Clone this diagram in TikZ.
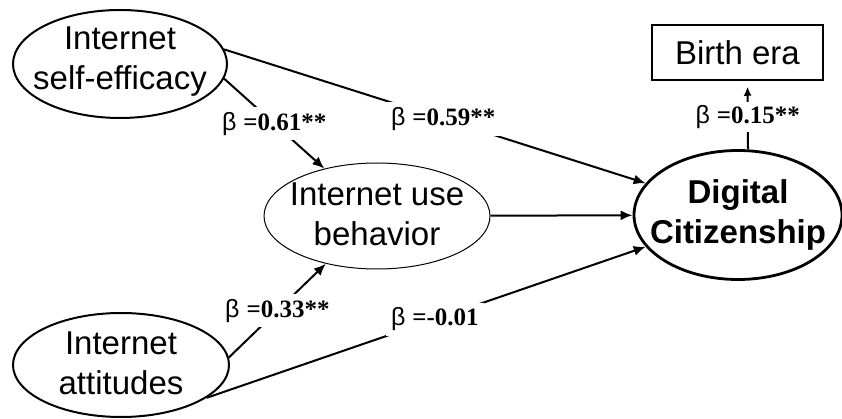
\documentclass[tikz,border=0pt]{standalone}
\usepackage{fontspec}
\setmainfont{Liberation Sans}
\newfontfamily\numfont{Liberation Serif}
\usetikzlibrary{arrows.meta, shapes.geometric}

\begin{document}
\begin{tikzpicture}[
      x=1pt, y=-1pt,
      font=\fontsize{33}{40}\selectfont,
      latent/.style={ellipse, draw, line width=2pt, inner sep=0pt},
      mediator/.style={latent, line width=1pt},
      outcome/.style={latent, line width=2.8pt},
      obs/.style={rectangle, draw, line width=1.5pt, minimum width=171pt, minimum height=55pt},
      path/.style={-{Latex[length=12pt,width=10pt]}, line width=2pt},
      coef/.style={fill=white, inner sep=5pt, font=\fontsize{25}{27}\selectfont}
    ]
      \useasboundingbox (0,0) rectangle (842,419);
      \node[latent, minimum width=214pt, minimum height=108pt,
        label={[align=center, yshift=2pt]center:Internet\\self-efficacy}] (se) at (120,64) {};
      \node[latent, minimum width=216pt, minimum height=104pt,
        label={[align=center, yshift=2pt]center:Internet\\attitudes}] (att) at (121,365) {};
      \node[mediator, minimum width=226pt, minimum height=106pt,
        label={[align=center, yshift=2pt]center:Internet use\\behavior}] (ub) at (377,216) {};
      \node[outcome, minimum width=208pt, minimum height=129pt,
        label={[align=center, font=\fontsize{33}{40}\selectfont\bfseries]center:Digital\\Citizenship}] (dc) at (738,215) {};
      \node[obs] (be) at (737.5,52.5) {Birth era};
      % paths
      \draw[path] (se.-8) -- node[coef]{β \numfont\bfseries =0.61**} (ub.138);
      \draw[path] (se.8) -- node[coef, pos=0.52]{β \numfont\bfseries =0.59**} (dc.161);
      \draw[path] (ub) -- (dc);
      \draw[path] (att.4) -- node[coef]{β \numfont\bfseries =0.33**} (ub.223);
      \draw[path] (att.-21) -- node[coef, pos=0.52]{β \numfont\bfseries =-0.01} (dc.199);
      \draw[-{Latex[length=9pt,width=8pt]}, line width=2pt, shorten >=6pt]
        ([xshift=10pt]dc.north) -- node[coef, inner ysep=3pt, pos=0.47]{β \numfont\bfseries =0.15**} ([xshift=10pt]be.south);
    \end{tikzpicture}
\end{document}
